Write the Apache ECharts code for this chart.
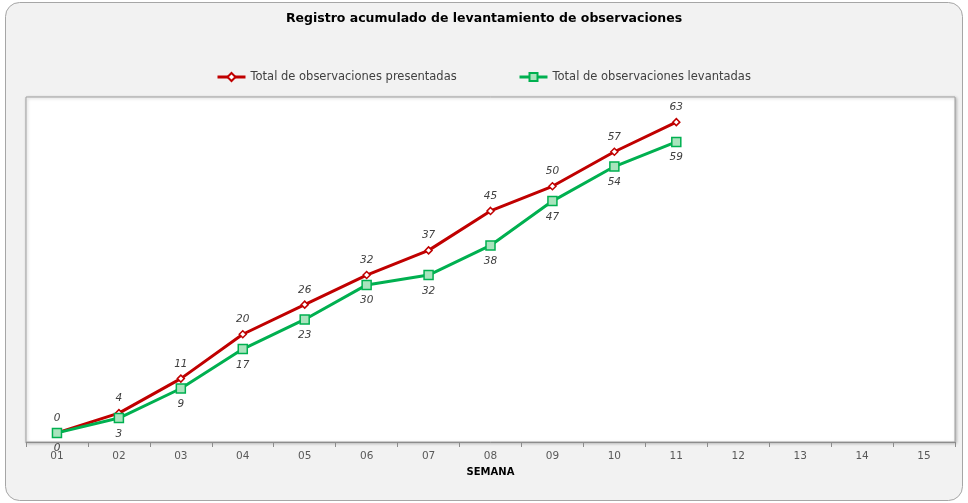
<!DOCTYPE html>
<html>
<head>
<meta charset="utf-8">
<script src="https://cdn.jsdelivr.net/npm/echarts@6/dist/echarts.min.js"></script>
<style>
  html, body { margin: 0; padding: 0; background: #ffffff; }
  #chart { width: 968px; height: 503px; }
</style>
</head>
<body>
<div id="chart"></div>
<script>
// Weeks on the category axis
const weeks = ['01', '02', '03', '04', '05', '06', '07', '08', '09', '10', '11', '12', '13', '14', '15'];
// Cumulative totals per week (weeks 12-15 not yet recorded)
const presentadas = [0, 4, 11, 20, 26, 32, 37, 45, 50, 57, 63, null, null, null, null];
const levantadas = [0, 3, 9, 17, 23, 30, 32, 38, 47, 54, 59, null, null, null, null];

const nameRed = 'Total de observaciones presentadas';
const nameGreen = 'Total de observaciones levantadas';
const FONT = 'DejaVu Sans';

const chart = echarts.init(document.getElementById('chart'), null, { renderer: 'canvas' });

const legendText = { fontFamily: FONT, fontSize: 11.5, color: '#404040' };

chart.setOption({
  animation: false,
  backgroundColor: '#ffffff',
  textStyle: { fontFamily: FONT },
  graphic: [{
    type: 'rect',
    z: -10,
    silent: true,
    shape: { x: 5.5, y: 2.5, width: 957, height: 498, r: 14 },
    style: { fill: '#f2f2f2', stroke: '#a6a6a6', lineWidth: 1 }
  }],
  title: {
    text: 'Registro acumulado de levantamiento de observaciones',
    left: 'center',
    top: 7,
    textStyle: { fontFamily: FONT, fontSize: 12.5, fontWeight: 'bold', color: '#000000' }
  },
  legend: [{
    data: [nameRed],
    left: 211,
    top: 66,
    itemWidth: 28,
    itemHeight: 10,
    lineStyle: { width: 3 },
    textStyle: legendText
  }, {
    data: [nameGreen],
    left: 513,
    top: 66,
    itemWidth: 28,
    itemHeight: 10,
    lineStyle: { width: 3 },
    textStyle: legendText
  }],
  grid: {
    show: true,
    left: 26,
    right: 13,
    top: 97,
    bottom: 61,
    backgroundColor: '#ffffff',
    borderColor: '#a0a0a0',
    borderWidth: 1,
    shadowColor: 'rgba(0,0,0,0.25)',
    shadowBlur: 3,
    shadowOffsetX: 1,
    shadowOffsetY: 1,
    containLabel: false
  },
  xAxis: {
    type: 'category',
    data: weeks,
    boundaryGap: true,
    name: 'SEMANA',
    nameLocation: 'middle',
    nameGap: 25,
    nameTextStyle: { fontFamily: FONT, fontSize: 10, fontWeight: 'bold', color: '#000000' },
    axisLine: { show: true, onZero: false, lineStyle: { color: '#8c8c8c', width: 1 } },
    axisTick: { show: true, alignWithLabel: false, length: 5, inside: false, lineStyle: { color: '#8c8c8c' } },
    axisLabel: { fontFamily: FONT, fontSize: 10.5, color: '#595959', margin: 9 },
    splitLine: { show: false }
  },
  yAxis: {
    type: 'value',
    min: -1.85,
    max: 68.1,
    show: false,
    splitLine: { show: false }
  },
  series: [{
    name: nameRed,
    type: 'line',
    data: presentadas,
    connectNulls: false,
    symbol: 'diamond',
    symbolSize: 7,
    lineStyle: { color: '#c00000', width: 3 },
    itemStyle: { color: '#ffffff', borderColor: '#c00000', borderWidth: 1.5 },
    label: {
      show: true,
      position: 'top',
      distance: 5,
      fontFamily: FONT,
      fontSize: 10.5,
      fontStyle: 'italic',
      color: '#404040'
    },
    z: 3
  }, {
    name: nameGreen,
    type: 'line',
    data: levantadas,
    connectNulls: false,
    symbol: 'rect',
    symbolSize: 9,
    lineStyle: { color: '#00b050', width: 3 },
    itemStyle: { color: '#a9e4bd', borderColor: '#00b050', borderWidth: 1.5 },
    label: {
      show: true,
      position: 'bottom',
      distance: 5,
      fontFamily: FONT,
      fontSize: 10.5,
      fontStyle: 'italic',
      color: '#404040'
    },
    z: 4
  }]
});
</script>
</body>
</html>
